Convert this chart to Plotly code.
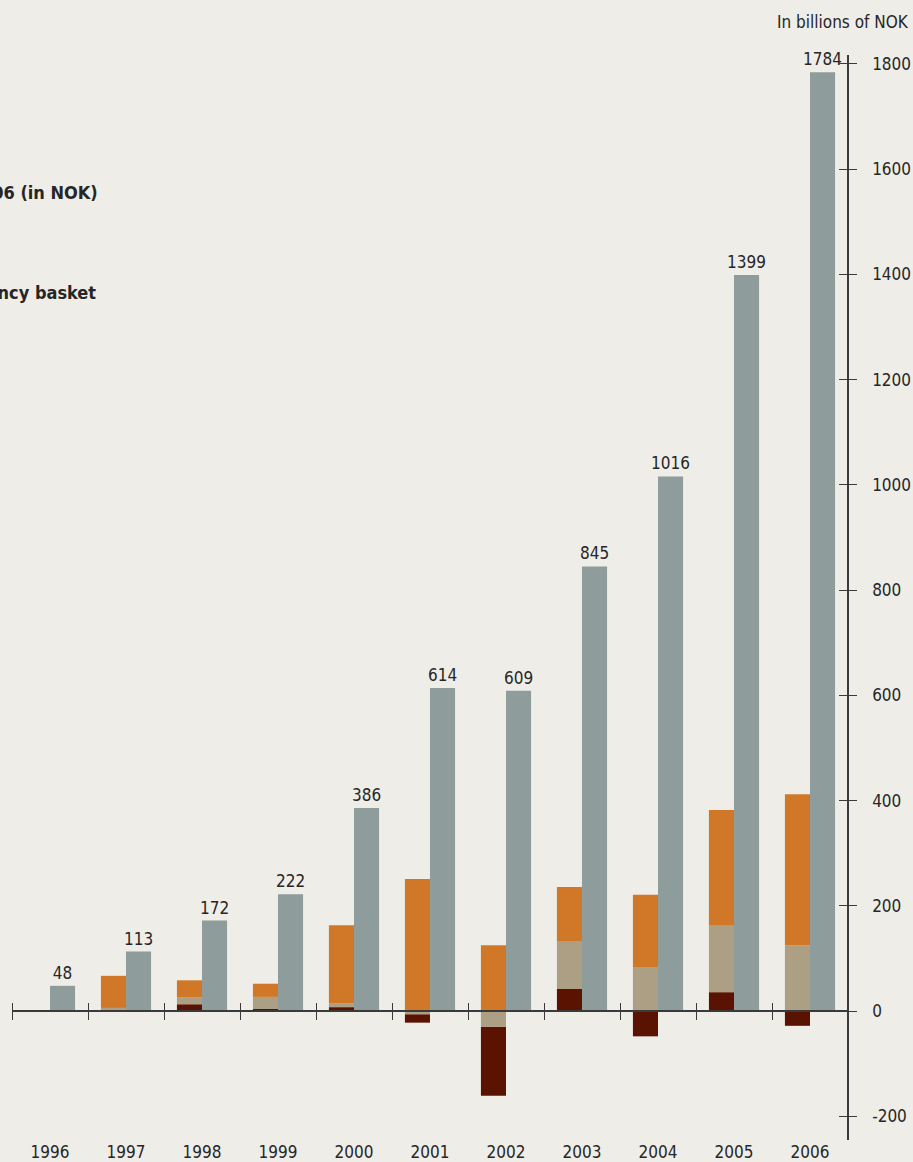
import numpy as np
import plotly.graph_objects as go

years = list(range(1996, 2007))
market_value = [48, 113, 172, 222, 386, 614, 609, 845, 1016, 1399, 1784]
krone_effect = [0, 2, 13, 4, 7.5, -16, -131, 42, -48, 36, -28]
fund_return = [0, 4, 13.5, 23, 7.5, -6, -30, 91, 84, 126, 125]
inflow = [1, 61, 32, 25, 148, 251, 125, 103, 137, 220, 287]
y_ticks = list(range(-200, 1801, 200))
y_tick_text = [str(v) for v in y_ticks]

C_GREY = "#8e9c9b"
C_ORANGE = "#d07827"
C_TAN = "#ad9f84"
C_DARK = "#5a1300"
TXT = "#262626"
AX = "#3a3a3a"
FONT = "DejaVu Sans Condensed, Liberation Sans Narrow, Roboto, sans-serif"

kr = np.array(krone_effect, float)
rt = np.array(fund_return, float)
inf = np.array(inflow, float)
base_dark = np.where(kr < 0, np.minimum(rt, 0), 0.0)
base_tan = np.where(rt >= 0, np.maximum(kr, 0), 0.0)
base_orange = np.maximum(kr, 0) + np.maximum(rt, 0)

W = 0.33
fig = go.Figure()
for name, vals, base, col in [
    ("Change in krone exchange rate", kr, base_dark, C_DARK),
    ("Return", rt, base_tan, C_TAN),
    ("Inflow of capital", inf, base_orange, C_ORANGE),
]:
    fig.add_trace(go.Bar(x=years, y=vals, base=base, width=W, offset=-W,
                         marker=dict(color=col, line=dict(width=0)), name=name))
fig.add_trace(go.Bar(x=years, y=market_value, width=W, offset=0,
                     marker=dict(color=C_GREY, line=dict(width=0)),
                     text=[str(v) for v in market_value], textposition="outside",
                     constraintext="none",
                     textfont=dict(family=FONT, size=17, color=TXT),
                     cliponaxis=False, name="Market value"))
# helper empty traces for the extra axes
fig.add_trace(go.Scatter(x=[], y=[], xaxis="x2", yaxis="y", showlegend=False))
fig.add_trace(go.Scatter(x=[], y=[], xaxis="x3", yaxis="y", showlegend=False))
fig.add_trace(go.Scatter(x=[], y=[], xaxis="x", yaxis="y2", showlegend=False))

xr = [1995.5, 1995.5 + 835 / 76]
yr = [-245, 1817]
zero_pos = (0 - yr[0]) / (yr[1] - yr[0])
bounds = [y - 0.5 for y in years]

tick_common = dict(showgrid=False, zeroline=False, automargin=False,
                   ticklen=8, tickwidth=1.2, tickcolor=AX)

fig.update_layout(
    width=913, height=1162,
    margin=dict(l=12, r=66, t=55, b=22, autoexpand=False),
    paper_bgcolor="#efede8", plot_bgcolor="rgba(0,0,0,0)",
    barmode="overlay", showlegend=False,
    font=dict(family=FONT, size=17, color=TXT),
    xaxis=dict(range=xr, tickvals=years, ticktext=[str(y) for y in years],
               showline=False, showgrid=False, zeroline=False, ticks="",
               automargin=False, tickfont=dict(size=17, color=TXT)),
    xaxis2=dict(range=xr, overlaying="x", anchor="free", position=zero_pos, side="bottom",
                tickvals=bounds, showticklabels=False,
                showline=True, linecolor=AX, linewidth=1.5,
                ticks="outside", **tick_common),
    xaxis3=dict(range=xr, overlaying="x", anchor="free", position=zero_pos, side="top",
                tickvals=bounds, showticklabels=False, showline=False,
                ticks="outside", **tick_common),
    yaxis=dict(range=yr, side="right", tickvals=y_ticks, ticktext=y_tick_text,
               showline=True, linecolor=AX, linewidth=1.5,
               ticks="outside", ticklabelstandoff=12,
               tickfont=dict(size=17, color=TXT), **tick_common),
    yaxis2=dict(range=yr, overlaying="y", anchor="free", position=1.0, side="left",
                tickvals=y_ticks, showticklabels=False, showline=False,
                ticks="outside", **tick_common),
    annotations=[
        dict(text="In billions of NOK", xref="paper", yref="paper",
             x=(911 - 12) / 835, y=(1140 - 22) / 1085, xanchor="right", yanchor="middle",
             showarrow=False, font=dict(family=FONT, size=17, color=TXT)),
        dict(text="<b>Market value of the fund 1996-2006 (in NOK)</b>", xref="paper", yref="paper",
             x=(100 - 12) / 835, y=(1140 - 192) / 1085, xanchor="right", yanchor="middle",
             showarrow=False, font=dict(family=FONT, size=18, color=TXT)),
        dict(text="<b>Return in the currency basket</b>", xref="paper", yref="paper",
             x=(98 - 12) / 835, y=(1140 - 292) / 1085, xanchor="right", yanchor="middle",
             showarrow=False, font=dict(family=FONT, size=18, color=TXT)),
    ],
)

fig.write_html("out.html",
               config={"displayModeBar": False, "responsive": False},
               post_script="document.body.style.margin='0';"
                           "document.documentElement.style.overflow='hidden';"
                           "document.body.style.overflow='hidden';")
